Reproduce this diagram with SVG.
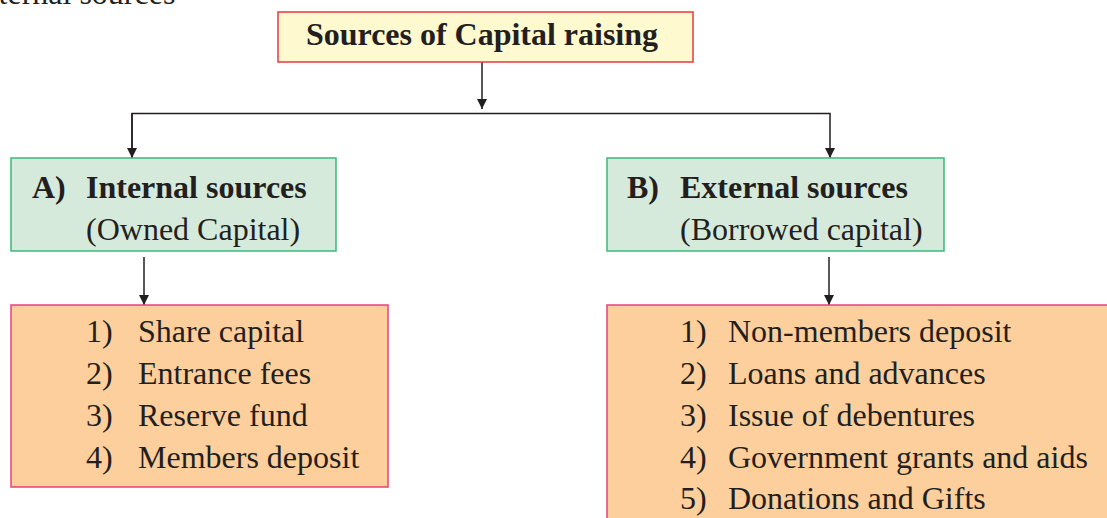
<svg xmlns="http://www.w3.org/2000/svg" width="1107" height="518" viewBox="0 0 1107 518">
<style>
.t{font-family:"Liberation Serif","Times New Roman",serif;fill:#231f20;font-size:32px}
.b{font-weight:bold}
.c{stroke:#231f20;stroke-width:1.5;fill:none}
</style>
<defs>
<marker id="ah" viewBox="0 0 10 10" refX="10" refY="5" markerWidth="10" markerHeight="10" markerUnits="userSpaceOnUse" orient="auto">
<path d="M0,0 L10,5 L0,10 z" fill="#231f20"/>
</marker>
</defs>
<rect width="1107" height="518" fill="#ffffff"/>
<text class="t" x="-37" y="4">External sources</text>
<g id="connectors">
<line class="c" x1="482" y1="62" x2="482" y2="109" marker-end="url(#ah)"/>
<polyline class="c" points="132,158 132,113.5 830,113.5 830,158" marker-end="url(#ah)"/>
<line class="c" x1="132" y1="113.5" x2="132" y2="158" marker-end="url(#ah)"/>
<line class="c" x1="144" y1="257" x2="144" y2="305" marker-end="url(#ah)"/>
<line class="c" x1="829" y1="257" x2="829" y2="305" marker-end="url(#ah)"/>
</g>
<g id="root">
<rect x="278" y="12" width="415" height="50" fill="#fff9d0" stroke="#e8383d" stroke-width="1.5"/>
<text class="t b" x="306" y="45" font-size="32" textLength="352">Sources of Capital raising</text>
</g>
<g id="internal">
<rect x="11" y="158" width="325" height="93" fill="#d6eadc" stroke="#3cb878" stroke-width="1.5"/>
<text class="t b" x="32" y="198">A)</text>
<text class="t b" x="86" y="198">Internal sources</text>
<text class="t" x="86" y="240">(Owned Capital)</text>
</g>
<g id="external">
<rect x="607" y="158" width="337" height="93" fill="#d6eadc" stroke="#3cb878" stroke-width="1.5"/>
<text class="t b" x="627" y="198">B)</text>
<text class="t b" x="680" y="198">External sources</text>
<text class="t" x="680" y="240">(Borrowed capital)</text>
</g>
<g id="internal-list">
<rect x="11" y="305" width="377" height="182" fill="#fdcf9c" stroke="#e8407a" stroke-width="1.5"/>
<text class="t" x="86" y="342">1)</text><text class="t" x="138" y="342">Share capital</text>
<text class="t" x="86" y="384">2)</text><text class="t" x="138" y="384">Entrance fees</text>
<text class="t" x="86" y="426">3)</text><text class="t" x="138" y="426">Reserve fund</text>
<text class="t" x="86" y="468">4)</text><text class="t" x="138" y="468">Members deposit</text>
</g>
<g id="external-list">
<rect x="607" y="305" width="520" height="240" fill="#fdcf9c" stroke="#e8407a" stroke-width="1.5"/>
<text class="t" x="680" y="342">1)</text><text class="t" x="728" y="342">Non-members deposit</text>
<text class="t" x="680" y="384">2)</text><text class="t" x="728" y="384">Loans and advances</text>
<text class="t" x="680" y="426">3)</text><text class="t" x="728" y="426">Issue of debentures</text>
<text class="t" x="680" y="468">4)</text><text class="t" x="728" y="468">Government grants and aids</text>
<text class="t" x="680" y="509">5)</text><text class="t" x="728" y="509">Donations and Gifts</text>
</g>
</svg>
